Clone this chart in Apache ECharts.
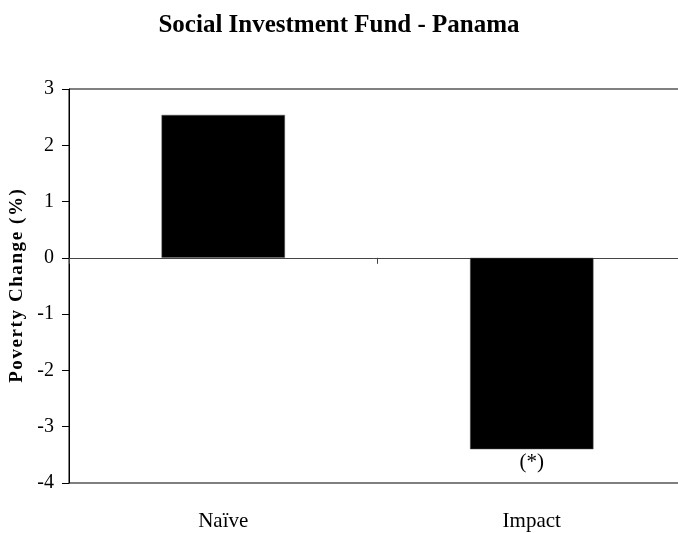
<!DOCTYPE html>
<html>
<head>
<meta charset="utf-8">
<script src="https://cdn.jsdelivr.net/npm/echarts@6/dist/echarts.min.js"></script>
<style>
  html, body { margin: 0; padding: 0; background: #fff; }
  #chart { width: 678px; height: 533px; }
</style>
</head>
<body>
<div id="chart"></div>
<script>
// Poverty change by estimation approach
const categories = ['Naïve', 'Impact'];
const povertyChange = [2.54, -3.4];
const barNotes = ['', '(*)'];
const yTicks = { min: -4, max: 3, step: 1 };

const serif = '"Liberation Serif", "Times New Roman", serif';

// slightly spaced-out axis title
const yName = 'Poverty Change (%)'.split('').join('\u200A');

const chart = echarts.init(document.getElementById('chart'), null, { renderer: 'canvas' });

chart.setOption({
  animation: false,
  backgroundColor: '#fff',
  title: {
    text: 'Social Investment Fund - Panama',
    left: 334,
    textAlign: 'center',
    top: 8,
    textStyle: { fontFamily: serif, fontWeight: 'bold', fontSize: 25, color: '#000' }
  },
  grid: {
    left: 69, top: 89, width: 617, bottom: 50,
    outerBoundsMode: 'none',
    containLabel: false,
    show: true, borderColor: '#000', borderWidth: 1, backgroundColor: 'transparent'
  },
  xAxis: [
    {
      type: 'category',
      data: categories,
      position: 'bottom',
      axisLine: { show: false, onZero: false },
      axisTick: { show: false },
      axisLabel: { margin: 28, fontFamily: serif, fontSize: 21, color: '#000' }
    },
    {
      type: 'category',
      data: categories,
      position: 'bottom',
      axisLine: { show: true, onZero: true, lineStyle: { color: '#444', width: 1 } },
      axisTick: { show: true, length: 6, lineStyle: { color: '#444' } },
      axisLabel: { show: false }
    }
  ],
  yAxis: {
    type: 'value',
    min: yTicks.min,
    max: yTicks.max,
    interval: yTicks.step,
    name: yName,
    nameLocation: 'middle',
    nameGap: 40,
    nameRotate: 90,
    nameTextStyle: { fontFamily: serif, fontWeight: 'bold', fontSize: 19, color: '#000' },
    axisLine: { show: true, lineStyle: { color: '#000', width: 1 } },
    axisTick: { show: true, length: 7, lineStyle: { color: '#000' } },
    axisLabel: { margin: 15, fontFamily: serif, fontSize: 20, color: '#000' },
    splitLine: { show: false }
  },
  series: [{
    type: 'bar',
    xAxisIndex: 0,
    barWidth: '40%',
    data: povertyChange.map((v, i) => ({
      value: v,
      label: {
        show: barNotes[i] !== '',
        position: 'bottom',
        distance: 3,
        formatter: barNotes[i],
        fontFamily: serif,
        fontSize: 21,
        color: '#000'
      }
    })),
    itemStyle: { color: '#000', borderColor: '#555', borderWidth: 0.5 }
  }]
});
</script>
</body>
</html>
